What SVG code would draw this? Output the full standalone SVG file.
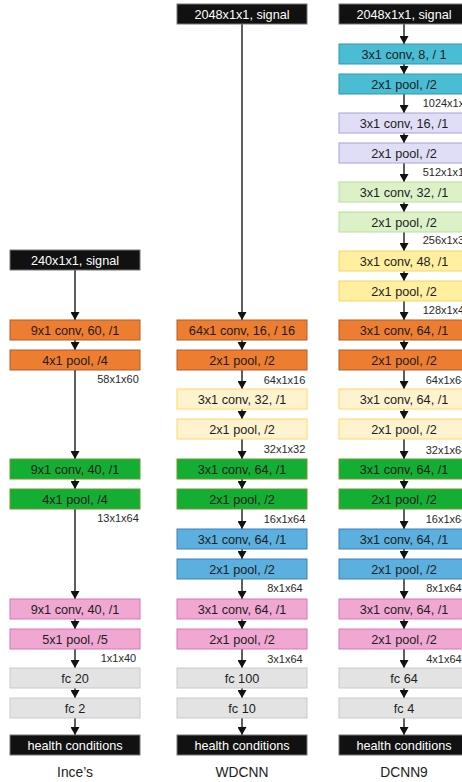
<svg xmlns="http://www.w3.org/2000/svg" width="462" height="782" viewBox="0 0 462 782">
<style>
text{font-family:"Liberation Sans",Arial,sans-serif}
.t{font-size:12.7px;fill:#1e1e1e;text-anchor:middle}
.tw{font-size:12.7px;fill:#ffffff;text-anchor:middle}
.l{font-size:11px;fill:#2a2a2a;text-anchor:middle}
.c{font-size:13.8px;fill:#222;text-anchor:middle}
rect{stroke-width:1}
.bk{fill:#111111;stroke:#777777}
.or{fill:#ED7D31;stroke:#B35E22}
.gr{fill:#15AE35;stroke:#6E9A2E}
.pk{fill:#F0A8D2;stroke:#D676B6}
.fc{fill:#E3E3E3;stroke:#C9C9C9}
.ly{fill:#FFF3CF;stroke:#FFD866}
.bl{fill:#5BB0DF;stroke:#3E7FBE}
.cy{fill:#4ABCD4;stroke:#2F97AE}
.lv{fill:#E0DDF6;stroke:#A8A2D8}
.lg{fill:#DCF1C8;stroke:#B6E09A}
.yl{fill:#FFEF9E;stroke:#F3D56A}
.a{stroke:#1a1a1a;stroke-width:1.4;fill:none;marker-end:url(#ah)}
</style>
<defs>
<marker id="ah" markerUnits="userSpaceOnUse" markerWidth="10" markerHeight="9" refX="8" refY="4.5" orient="auto"><path d="M0,0 L8,4.5 L0,9 z" fill="#111"/></marker>
</defs>

<g id="connectors">
<!-- left -->
<line class="a" x1="75" y1="270" x2="75" y2="320"/>
<line class="a" x1="75" y1="340" x2="75" y2="350"/>
<line class="a" x1="75" y1="370" x2="75" y2="459"/>
<line class="a" x1="75" y1="479" x2="75" y2="489"/>
<line class="a" x1="75" y1="509" x2="75" y2="599"/>
<line class="a" x1="75" y1="619" x2="75" y2="629"/>
<line class="a" x1="75" y1="649" x2="75" y2="668"/>
<line class="a" x1="75" y1="688" x2="75" y2="698"/>
<line class="a" x1="75" y1="718" x2="75" y2="735"/>
<!-- middle -->
<line class="a" x1="242" y1="24" x2="242" y2="320"/>
<line class="a" x1="242" y1="340" x2="242" y2="350"/>
<line class="a" x1="242" y1="370" x2="242" y2="389"/>
<line class="a" x1="242" y1="409" x2="242" y2="419"/>
<line class="a" x1="242" y1="439" x2="242" y2="459"/>
<line class="a" x1="242" y1="479" x2="242" y2="489"/>
<line class="a" x1="242" y1="509" x2="242" y2="529"/>
<line class="a" x1="242" y1="549" x2="242" y2="559"/>
<line class="a" x1="242" y1="579" x2="242" y2="599"/>
<line class="a" x1="242" y1="619" x2="242" y2="629"/>
<line class="a" x1="242" y1="649" x2="242" y2="668"/>
<line class="a" x1="242" y1="688" x2="242" y2="698"/>
<line class="a" x1="242" y1="718" x2="242" y2="735"/>
<!-- right -->
<line class="a" x1="404" y1="24" x2="404" y2="44"/>
<line class="a" x1="404" y1="64" x2="404" y2="74"/>
<line class="a" x1="404" y1="94" x2="404" y2="113"/>
<line class="a" x1="404" y1="133" x2="404" y2="143"/>
<line class="a" x1="404" y1="163" x2="404" y2="182"/>
<line class="a" x1="404" y1="202" x2="404" y2="212"/>
<line class="a" x1="404" y1="232" x2="404" y2="251"/>
<line class="a" x1="404" y1="271" x2="404" y2="281"/>
<line class="a" x1="404" y1="301" x2="404" y2="320"/>
<line class="a" x1="404" y1="340" x2="404" y2="350"/>
<line class="a" x1="404" y1="370" x2="404" y2="389"/>
<line class="a" x1="404" y1="409" x2="404" y2="419"/>
<line class="a" x1="404" y1="439" x2="404" y2="459"/>
<line class="a" x1="404" y1="479" x2="404" y2="489"/>
<line class="a" x1="404" y1="509" x2="404" y2="529"/>
<line class="a" x1="404" y1="549" x2="404" y2="559"/>
<line class="a" x1="404" y1="579" x2="404" y2="599"/>
<line class="a" x1="404" y1="619" x2="404" y2="629"/>
<line class="a" x1="404" y1="649" x2="404" y2="668"/>
<line class="a" x1="404" y1="688" x2="404" y2="698"/>
<line class="a" x1="404" y1="718" x2="404" y2="735"/>
</g>

<!-- Left column: Ince's -->
<g id="L0"><rect class="bk" x="10" y="250" width="130" height="20"/><text class="tw" x="75" y="264.5">240x1x1, signal</text></g>
<g id="L1"><rect class="or" x="10" y="320" width="130" height="20"/><text class="t" x="75" y="334.5">9x1 conv, 60, /1</text></g>
<g id="L2"><rect class="or" x="10" y="350" width="130" height="20"/><text class="t" x="75" y="364.5">4x1 pool, /4</text></g>
<g id="L3"><rect class="gr" x="10" y="459" width="130" height="20"/><text class="t" x="75" y="473.5">9x1 conv, 40, /1</text></g>
<g id="L4"><rect class="gr" x="10" y="489" width="130" height="20"/><text class="t" x="75" y="503.5">4x1 pool, /4</text></g>
<g id="L5"><rect class="pk" x="10" y="599" width="130" height="20"/><text class="t" x="75" y="613.5">9x1 conv, 40, /1</text></g>
<g id="L6"><rect class="pk" x="10" y="629" width="130" height="20"/><text class="t" x="75" y="643.5">5x1 pool, /5</text></g>
<g id="L7"><rect class="fc" x="10" y="668" width="130" height="20"/><text class="t" x="75" y="682.5">fc 20</text></g>
<g id="L8"><rect class="fc" x="10" y="698" width="130" height="20"/><text class="t" x="75" y="712.5">fc 2</text></g>
<g id="L9"><rect class="bk" x="10" y="735" width="130" height="20"/><text class="tw" x="75" y="749.5">health conditions</text></g>
<g id="Llabels">
<text class="l" x="118" y="383">58x1x60</text>
<text class="l" x="118" y="522">13x1x64</text>
<text class="l" x="118.5" y="662">1x1x40</text>
<text class="c" x="75" y="777">Ince’s</text>
</g>

<!-- Middle column: WDCNN -->
<g id="M0"><rect class="bk" x="177" y="4" width="130" height="20"/><text class="tw" x="242" y="18.5">2048x1x1, signal</text></g>
<g id="M1"><rect class="or" x="177" y="320" width="130" height="20"/><text class="t" x="242" y="334.5">64x1 conv, 16, / 16</text></g>
<g id="M2"><rect class="or" x="177" y="350" width="130" height="20"/><text class="t" x="242" y="364.5">2x1 pool, /2</text></g>
<g id="M3"><rect class="ly" x="177" y="389" width="130" height="20"/><text class="t" x="242" y="403.5">3x1 conv, 32, /1</text></g>
<g id="M4"><rect class="ly" x="177" y="419" width="130" height="20"/><text class="t" x="242" y="433.5">2x1 pool, /2</text></g>
<g id="M5"><rect class="gr" x="177" y="459" width="130" height="20"/><text class="t" x="242" y="473.5">3x1 conv, 64, /1</text></g>
<g id="M6"><rect class="gr" x="177" y="489" width="130" height="20"/><text class="t" x="242" y="503.5">2x1 pool, /2</text></g>
<g id="M7"><rect class="bl" x="177" y="529" width="130" height="20"/><text class="t" x="242" y="543.5">3x1 conv, 64, /1</text></g>
<g id="M8"><rect class="bl" x="177" y="559" width="130" height="20"/><text class="t" x="242" y="573.5">2x1 pool, /2</text></g>
<g id="M9"><rect class="pk" x="177" y="599" width="130" height="20"/><text class="t" x="242" y="613.5">3x1 conv, 64, /1</text></g>
<g id="M10"><rect class="pk" x="177" y="629" width="130" height="20"/><text class="t" x="242" y="643.5">2x1 pool, /2</text></g>
<g id="M11"><rect class="fc" x="177" y="668" width="130" height="20"/><text class="t" x="242" y="682.5">fc 100</text></g>
<g id="M12"><rect class="fc" x="177" y="698" width="130" height="20"/><text class="t" x="242" y="712.5">fc 10</text></g>
<g id="M13"><rect class="bk" x="177" y="735" width="130" height="20"/><text class="tw" x="242" y="749.5">health conditions</text></g>
<g id="Mlabels">
<text class="l" x="284.5" y="384">64x1x16</text>
<text class="l" x="284.5" y="453">32x1x32</text>
<text class="l" x="284.5" y="523">16x1x64</text>
<text class="l" x="285" y="592">8x1x64</text>
<text class="l" x="285" y="663">3x1x64</text>
<text class="c" x="242" y="777">WDCNN</text>
</g>

<!-- Right column: DCNN9 -->
<g id="R0"><rect class="bk" x="339" y="4" width="130" height="20"/><text class="tw" x="404" y="18.5">2048x1x1, signal</text></g>
<g id="R1"><rect class="cy" x="339" y="44" width="130" height="20"/><text class="t" x="404" y="58.5">3x1 conv, 8, / 1</text></g>
<g id="R2"><rect class="cy" x="339" y="74" width="130" height="20"/><text class="t" x="404" y="88.5">2x1 pool, /2</text></g>
<g id="R3"><rect class="lv" x="339" y="113" width="130" height="20"/><text class="t" x="404" y="127.5">3x1 conv, 16, /1</text></g>
<g id="R4"><rect class="lv" x="339" y="143" width="130" height="20"/><text class="t" x="404" y="157.5">2x1 pool, /2</text></g>
<g id="R5"><rect class="lg" x="339" y="182" width="130" height="20"/><text class="t" x="404" y="196.5">3x1 conv, 32, /1</text></g>
<g id="R6"><rect class="lg" x="339" y="212" width="130" height="20"/><text class="t" x="404" y="226.5">2x1 pool, /2</text></g>
<g id="R7"><rect class="yl" x="339" y="251" width="130" height="20"/><text class="t" x="404" y="265.5">3x1 conv, 48, /1</text></g>
<g id="R8"><rect class="yl" x="339" y="281" width="130" height="20"/><text class="t" x="404" y="295.5">2x1 pool, /2</text></g>
<g id="R9"><rect class="or" x="339" y="320" width="130" height="20"/><text class="t" x="404" y="334.5">3x1 conv, 64, /1</text></g>
<g id="R10"><rect class="or" x="339" y="350" width="130" height="20"/><text class="t" x="404" y="364.5">2x1 pool, /2</text></g>
<g id="R11"><rect class="ly" x="339" y="389" width="130" height="20"/><text class="t" x="404" y="403.5">3x1 conv, 64, /1</text></g>
<g id="R12"><rect class="ly" x="339" y="419" width="130" height="20"/><text class="t" x="404" y="433.5">2x1 pool, /2</text></g>
<g id="R13"><rect class="gr" x="339" y="459" width="130" height="20"/><text class="t" x="404" y="473.5">3x1 conv, 64, /1</text></g>
<g id="R14"><rect class="gr" x="339" y="489" width="130" height="20"/><text class="t" x="404" y="503.5">2x1 pool, /2</text></g>
<g id="R15"><rect class="bl" x="339" y="529" width="130" height="20"/><text class="t" x="404" y="543.5">3x1 conv, 64, /1</text></g>
<g id="R16"><rect class="bl" x="339" y="559" width="130" height="20"/><text class="t" x="404" y="573.5">2x1 pool, /2</text></g>
<g id="R17"><rect class="pk" x="339" y="599" width="130" height="20"/><text class="t" x="404" y="613.5">3x1 conv, 64, /1</text></g>
<g id="R18"><rect class="pk" x="339" y="629" width="130" height="20"/><text class="t" x="404" y="643.5">2x1 pool, /2</text></g>
<g id="R19"><rect class="fc" x="339" y="668" width="130" height="20"/><text class="t" x="404" y="682.5">fc 64</text></g>
<g id="R20"><rect class="fc" x="339" y="698" width="130" height="20"/><text class="t" x="404" y="712.5">fc 4</text></g>
<g id="R21"><rect class="bk" x="339" y="735" width="130" height="20"/><text class="tw" x="404" y="749.5">health conditions</text></g>
<g id="Rlabels">
<text class="l" x="446.5" y="107">1024x1x8</text>
<text class="l" x="446.5" y="176">512x1x16</text>
<text class="l" x="446.5" y="244">256x1x32</text>
<text class="l" x="446.5" y="314">128x1x48</text>
<text class="l" x="446.5" y="384">64x1x64</text>
<text class="l" x="446.5" y="454">32x1x64</text>
<text class="l" x="446.5" y="523">16x1x64</text>
<text class="l" x="444" y="592">8x1x64</text>
<text class="l" x="444" y="663">4x1x64</text>
<text class="c" x="404" y="777">DCNN9</text>
</g>
</svg>
